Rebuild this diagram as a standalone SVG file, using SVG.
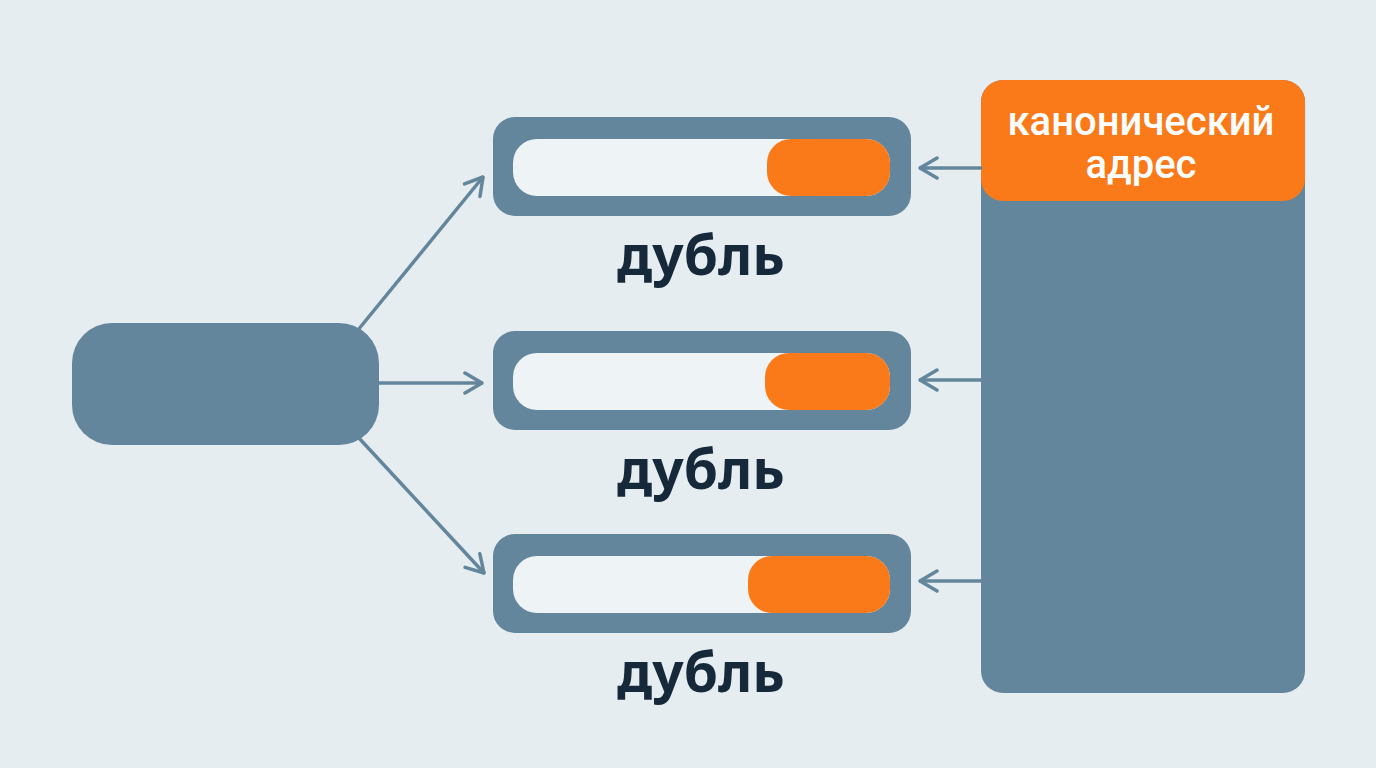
<svg xmlns="http://www.w3.org/2000/svg" width="1376" height="768" viewBox="0 0 1376 768">
<defs>
<style>
.slate{fill:#64869c}
.inner{fill:#eef3f6}
.orange{fill:#fa7a1a}
.lbl{font-family:"Noto Sans","Open Sans","DejaVu Sans",sans-serif;font-weight:bold;font-size:55px;fill:#15293a;text-anchor:middle}
.hdr{font-family:Roboto,"Noto Sans","DejaVu Sans",sans-serif;font-weight:500;font-size:40px;fill:#ffffff;text-anchor:middle}
.conn{stroke:#64869c;stroke-width:3.5;fill:none;stroke-linecap:round;stroke-linejoin:round}
</style>
<marker id="ah" viewBox="0 0 20 24" refX="19" refY="12" markerWidth="20" markerHeight="24" markerUnits="userSpaceOnUse" orient="auto">
<path d="M2,2 L19,12 L2,22" fill="none" stroke="#64869c" stroke-width="3.5" stroke-linecap="round" stroke-linejoin="round"/>
</marker>
</defs>
<rect width="1376" height="768" fill="#e6edf1"/>

<g id="source">
<rect class="slate" x="72" y="323" width="307" height="122" rx="40"/>
</g>

<g id="dup1">
<rect class="slate" x="493" y="117" width="418" height="99" rx="22"/>
<rect class="inner" x="513" y="139" width="377" height="57" rx="24"/>
<rect class="orange" x="767" y="139" width="123" height="57" rx="24"/>
<text class="lbl" x="701" y="275">дубль</text>
</g>

<g id="dup2">
<rect class="slate" x="493" y="331" width="418" height="99" rx="22"/>
<rect class="inner" x="513" y="353" width="377" height="57" rx="24"/>
<rect class="orange" x="765" y="353" width="125" height="57" rx="24"/>
<text class="lbl" x="701" y="489">дубль</text>
</g>

<g id="dup3">
<rect class="slate" x="493" y="534" width="418" height="99" rx="22"/>
<rect class="inner" x="513" y="556" width="377" height="57" rx="24"/>
<rect class="orange" x="748" y="556" width="142" height="57" rx="24"/>
<text class="lbl" x="701" y="692">дубль</text>
</g>

<g id="canonical">
<rect class="slate" x="981" y="80" width="324" height="613" rx="22"/>
<rect class="orange" x="981" y="80" width="324" height="121" rx="22"/>
<text class="hdr" x="1141" y="135">канонический</text>
<text class="hdr" x="1141" y="178">адрес</text>
</g>

<g id="connectors">
<line class="conn" x1="358" y1="330" x2="483" y2="177" marker-end="url(#ah)"/>
<line class="conn" x1="379" y1="383" x2="482" y2="383" marker-end="url(#ah)"/>
<line class="conn" x1="358" y1="437" x2="484" y2="573" marker-end="url(#ah)"/>
<line class="conn" x1="981" y1="168" x2="920" y2="168" marker-end="url(#ah)"/>
<line class="conn" x1="981" y1="380" x2="920" y2="380" marker-end="url(#ah)"/>
<line class="conn" x1="981" y1="581" x2="920" y2="581" marker-end="url(#ah)"/>
</g>
</svg>
